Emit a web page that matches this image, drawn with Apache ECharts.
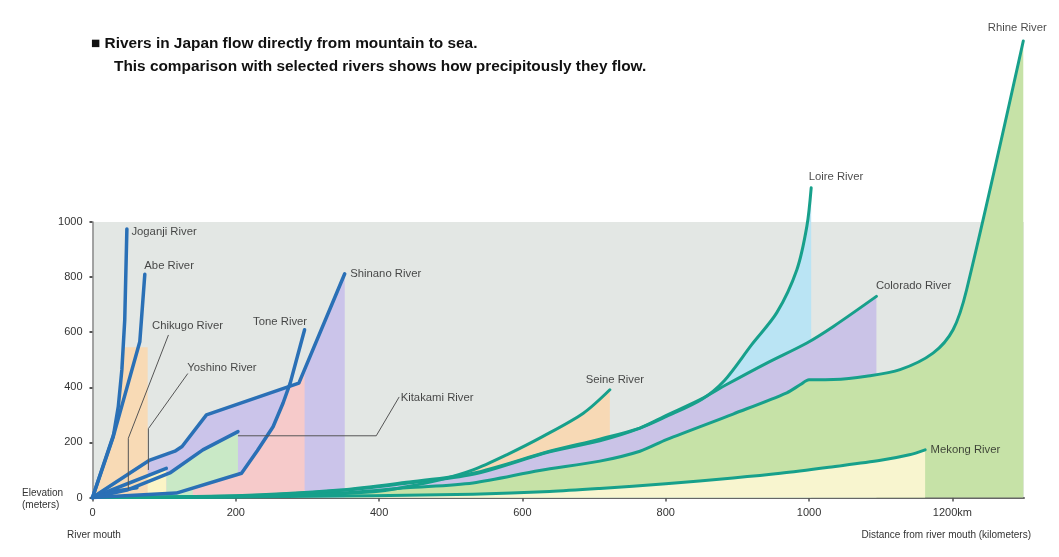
<!DOCTYPE html>
<html><head><meta charset="utf-8">
<script src="https://cdn.jsdelivr.net/npm/echarts@6/dist/echarts.min.js"></script>
<style>html,body{margin:0;padding:0;background:#fff}#c{width:1059px;height:557px}</style>
</head><body><div id="c"></div>
<script>
// ---------- tick labels ----------
const xTickValues = [0, 200, 400, 600, 800, 1000, 1200];
const xTickLabels = ['0', '200', '400', '600', '800', '1000', '1200km'];
const yTickValues = [0, 200, 400, 600, 800, 1000];

// ---------- Japanese rivers (distance km, elevation m) ----------
const joganjiKm = [0, 29, 36, 41, 45, 48];
const joganjiM  = [0, 221, 330, 464, 645, 975];
const abeKm = [0, 31, 66, 73];
const abeM  = [0, 240, 565, 810];
const chikugoKm = [0, 35, 62];
const chikugoM  = [0, 25, 35];
const chikugoAreaKm = [0, 29, 36, 40, 42, 77];
const chikugoAreaM  = [0, 221, 330, 440, 545, 545];
const yoshinoKm = [0, 103];
const yoshinoM  = [0, 106];
const kitakamiKm = [0, 48, 108, 154, 203];
const kitakamiM  = [0, 27, 89, 173, 239];
const kitakamiAreaKm = [103, 108, 154, 203];
const kitakamiAreaM  = [83, 89, 173, 239];
const toneKm = [0, 117, 208, 230, 252, 266, 276, 296];
const toneM  = [0, 16, 88, 170, 257, 343, 416, 609];
const toneAreaKm = [140, 208, 230, 252, 266, 275, 288, 296];
const toneAreaM  = [34, 88, 170, 257, 343, 405, 415, 465];
const shinanoKm = [0, 80, 115, 125, 159, 288, 352];
const shinanoM  = [0, 136, 168, 185, 300, 415, 812];

// ---------- other rivers ----------
const seineKm = [0, 250, 392, 438, 485, 531, 578, 628, 685, 722];
const seineM  = [0, 5, 21, 39, 64, 100, 155, 221, 306, 391];
const loireKm = [0, 200, 345, 438, 531, 638, 708, 764, 801, 850, 882, 920, 955, 983, 997, 1003];
const loireM  = [0, 6, 27, 55, 88, 168, 212, 252, 294, 356, 425, 555, 671, 827, 985, 1124];
const coloradoKm = [0, 200, 345, 438, 531, 638, 708, 764, 801, 850, 885, 941, 997, 1034, 1094];
const coloradoM  = [0, 5, 25, 52, 84, 166, 206, 252, 298, 358, 410, 488, 561, 621, 730];
const rhineKm = [0, 200, 345, 438, 531, 624, 708, 764, 801, 894, 969, 988, 1000, 1034, 1080, 1127, 1173, 1201, 1220, 1299];
const rhineM  = [0, 3, 16, 35, 53, 98, 132, 168, 210, 303, 380, 410, 427, 428, 440, 464, 524, 609, 755, 1657];
const mekongKm = [0, 200, 345, 438, 531, 638, 708, 800, 894, 960, 1034, 1100, 1140, 1162];
const mekongM  = [0, 2, 5, 8, 12, 22, 33, 50, 71, 88, 112, 135, 155, 173];

// ---------- label leader lines ----------
const chikugoLeaderKm = [50, 50, 106];
const chikugoLeaderM  = [30, 215, 590];
const yoshinoLeaderKm = [78, 78, 133];
const yoshinoLeaderM  = [100, 250, 450];
const kitakamiLeaderKm = [203, 396, 428];
const kitakamiLeaderM  = [224, 224, 365];

// ---------- helpers ----------
const pts = (km, m) => km.map((k, i) => [k, m[i]]);
const last = (km, m) => [km[km.length - 1], m[m.length - 1]];
const FONT = '"Liberation Sans", Arial, sans-serif';
const BLUE = '#2a70b6', TEAL = '#17a08b';

function lineS(km, m, color, width, smooth) {
  return { type: 'line', data: pts(km, m), symbol: 'none', clip: false, silent: true,
    smooth: smooth || false, z: 3,
    lineStyle: { color: color, width: width, cap: 'round', join: 'round' } };
}
function fillS(km, m, color, smooth) {
  return { type: 'line', data: pts(km, m), symbol: 'none', clip: false, silent: true,
    smooth: smooth || false, z: 2,
    lineStyle: { width: 0, opacity: 0 }, areaStyle: { color: color, opacity: 1 } };
}
function leaderS(km, m) {
  return { type: 'line', data: pts(km, m), symbol: 'none', clip: false, silent: true, z: 4,
    lineStyle: { color: '#555', width: 1 } };
}
const SM = 0.3;

const labelItems = [
  { name: 'Joganji River', value: last(joganjiKm, joganjiM), label: { position: 'right', offset: [4, 3] } },
  { name: 'Abe River', value: last(abeKm, abeM), label: { position: 'right', offset: [-1, -8] } },
  { name: 'Tone River', value: last(toneKm, toneM), label: { position: 'left', offset: [3, -8] } },
  { name: 'Shinano River', value: last(shinanoKm, shinanoM), label: { position: 'right', offset: [5, 0] } },
  { name: 'Chikugo River', value: last(chikugoLeaderKm, chikugoLeaderM), label: { position: 'top', offset: [19, -3] } },
  { name: 'Yoshino River', value: last(yoshinoLeaderKm, yoshinoLeaderM), label: { position: 'right', offset: [-1, -6] } },
  { name: 'Kitakami River', value: last(kitakamiLeaderKm, kitakamiLeaderM), label: { position: 'right', offset: [1, 1] } },
  { name: 'Seine River', value: last(seineKm, seineM), label: { position: 'top', offset: [5, -4] } },
  { name: 'Loire River', value: last(loireKm, loireM), label: { position: 'right', offset: [-3, -11] } },
  { name: 'Colorado River', value: last(coloradoKm, coloradoM), label: { position: 'right', offset: [-1, -11] } },
  { name: 'Mekong River', value: last(mekongKm, mekongM), label: { position: 'right', offset: [5, 0] } },
  { name: 'Rhine River', value: last(rhineKm, rhineM), label: { position: 'top', offset: [-6, -7] } }
];

const series = [
  // fills: other rivers
  fillS(seineKm, seineM, '#f7d9b5', SM),
  fillS(loireKm, loireM, '#bae4f4', SM),
  fillS(coloradoKm, coloradoM, '#cac3e7', SM),
  fillS(rhineKm, rhineM, '#c6e2a7', SM),
  fillS(mekongKm, mekongM, '#f8f5cf', SM),
  // fills: Japanese rivers
  fillS(shinanoKm, shinanoM, '#cbc4ea'),
  fillS(kitakamiAreaKm, kitakamiAreaM, '#c9e9c6'),
  fillS(toneAreaKm, toneAreaM, '#f6caca'),
  fillS(yoshinoKm, yoshinoM, '#fbf4c6'),
  fillS(chikugoAreaKm, chikugoAreaM, '#f8dab5'),
  // leaders
  leaderS(chikugoLeaderKm, chikugoLeaderM),
  leaderS(yoshinoLeaderKm, yoshinoLeaderM),
  leaderS(kitakamiLeaderKm, kitakamiLeaderM),
  // lines: other rivers
  lineS(mekongKm, mekongM, TEAL, 3, SM),
  lineS(rhineKm, rhineM, TEAL, 3, SM),
  lineS(coloradoKm, coloradoM, TEAL, 3, SM),
  lineS(loireKm, loireM, TEAL, 3, SM),
  lineS(seineKm, seineM, TEAL, 3, SM),
  // lines: Japanese rivers
  lineS(chikugoKm, chikugoM, BLUE, 3.5),
  lineS(yoshinoKm, yoshinoM, BLUE, 3.5),
  lineS(kitakamiKm, kitakamiM, BLUE, 3.5),
  lineS(toneKm, toneM, BLUE, 3.5),
  lineS(shinanoKm, shinanoM, BLUE, 3.5),
  lineS(abeKm, abeM, BLUE, 3.5),
  lineS(joganjiKm, joganjiM, BLUE, 3.5),
  // labels
  { type: 'scatter', symbolSize: 1, clip: false, silent: true, z: 5,
    itemStyle: { color: 'rgba(0,0,0,0)' },
    label: { show: true, formatter: '{b}', distance: 0, color: '#1a1a1a', fontSize: 11.3, fontFamily: FONT },
    data: labelItems }
];

const chart = echarts.init(document.getElementById('c'), null, { renderer: 'canvas' });
chart.setOption({
  animation: false,
  backgroundColor: '#ffffff',
  grid: { left: 92.5, right: 35, top: 222, bottom: 59.5, show: true, backgroundColor: '#e3e7e4', borderWidth: 0 },
  xAxis: {
    type: 'value', min: 0, max: 1300, interval: 100,
    axisLine: { show: true, onZero: false, lineStyle: { color: '#666', width: 2 } },
    axisTick: { show: true, customValues: xTickValues, length: 4, lineStyle: { color: '#555', width: 1.5 } },
    axisLabel: { customValues: xTickValues, margin: 10, fontSize: 11, color: '#333', fontFamily: FONT,
      formatter: v => xTickLabels[xTickValues.indexOf(v)] },
    splitLine: { show: false }
  },
  yAxis: {
    type: 'value', min: 0, max: 1000, interval: 200,
    axisLine: { show: true, lineStyle: { color: '#888', width: 1.5 } },
    axisTick: { show: true, customValues: yTickValues, length: 3, lineStyle: { color: '#555', width: 2 } },
    axisLabel: { customValues: yTickValues, margin: 10, fontSize: 11, color: '#333', fontFamily: FONT,
      formatter: v => String(v) },
    splitLine: { show: false }
  },
  graphic: [
    { type: 'text', left: 91, top: 36, silent: true,
      style: { text: '\u25A0 Rivers in Japan flow directly from mountain to sea.', font: 'bold 15.4px ' + FONT, fill: '#111' } },
    { type: 'text', left: 114, top: 59, silent: true,
      style: { text: 'This comparison with selected rivers shows how precipitously they flow.', font: 'bold 15.4px ' + FONT, fill: '#111' } },
    { type: 'text', left: 22, top: 487, silent: true,
      style: { text: 'Elevation\n(meters)', font: '10px ' + FONT, fill: '#333', lineHeight: 12 } },
    { type: 'text', left: 67, top: 530, silent: true,
      style: { text: 'River mouth', font: '10px ' + FONT, fill: '#333' } },
    { type: 'text', right: 28, top: 530, silent: true,
      style: { text: 'Distance from river mouth (kilometers)', font: '10px ' + FONT, fill: '#333' } }
  ],
  series: series
});
</script>
</body></html>
